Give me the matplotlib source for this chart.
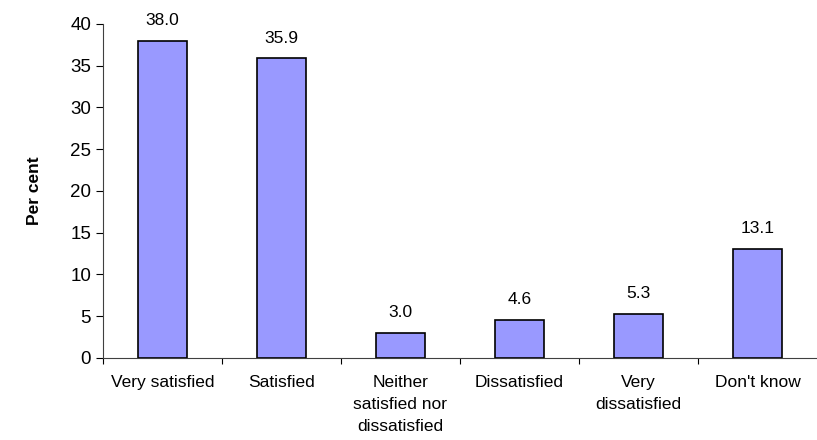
import numpy as np
import matplotlib
matplotlib.use("Agg")
import matplotlib.pyplot as plt

categories = ["Very satisfied", "Satisfied", "Neither\nsatisfied nor\ndissatisfied",
              "Dissatisfied", "Very\ndissatisfied", "Don't know"]
values = [38.0, 35.9, 3.0, 4.6, 5.3, 13.1]
yticks = [0, 5, 10, 15, 20, 25, 30, 35, 40]

plt.rcParams['font.family'] = ['Liberation Sans', 'DejaVu Sans']

fig = plt.figure(figsize=(8.17, 4.4), dpi=100)
ax = fig.add_axes([0.126, 0.1864, 0.874, 0.7591])

x = np.arange(len(categories))
ax.bar(x, values, width=0.41, color="#9999FF", edgecolor="black", linewidth=1.2)

for xi, v in zip(x, values):
    ax.text(xi, v + 1.5, f"{v:.1f}", ha="center", va="bottom", fontsize=12.5)

ax.set_xlim(-0.5, len(categories) - 0.5)
ax.set_ylim(0, 40)
ax.set_yticks(yticks)
ax.tick_params(axis="y", labelsize=13.5, length=5, direction="out", width=0.8)

ax.set_xticks(x)
ax.set_xticklabels(categories, fontsize=12.5, linespacing=1.6)
ax.tick_params(axis="x", which="major", length=0, pad=12)
ax.set_xticks(np.arange(len(categories)) - 0.5, minor=True)
ax.tick_params(axis="x", which="minor", length=4, direction="out", width=0.8)

ax.spines["top"].set_visible(False)
ax.spines["right"].set_visible(False)
for s in ("left", "bottom"):
    ax.spines[s].set_color("#404040")

ax.set_ylabel("Per cent", fontsize=12.5, fontweight="bold", labelpad=20)

fig.savefig("out.png", dpi=100)
